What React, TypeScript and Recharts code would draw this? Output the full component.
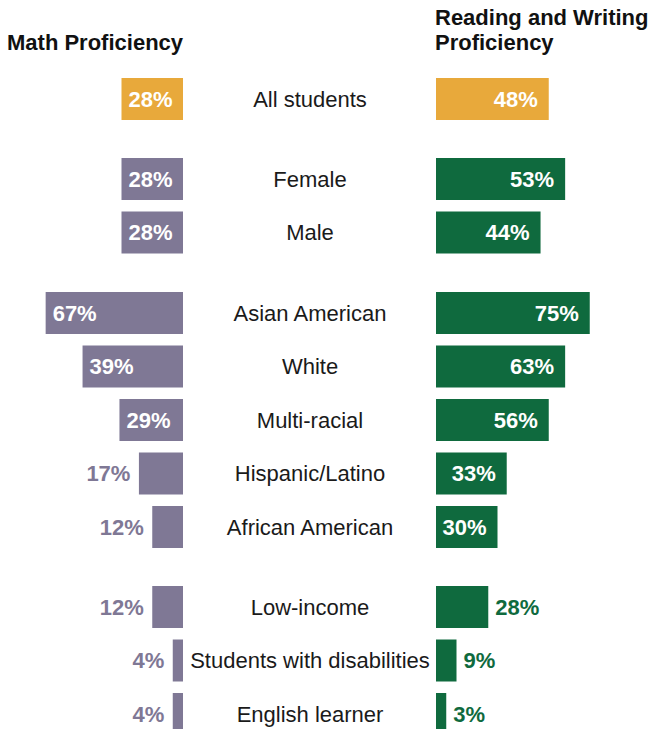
import { BarChart, Bar, XAxis, YAxis, Cell, LabelList } from 'recharts'

const categories = [
  'All students',
  'Female',
  'Male',
  'Asian American',
  'White',
  'Multi-racial',
  'Hispanic/Latino',
  'African American',
  'Low-income',
  'Students with disabilities',
  'English learner',
]
const groupSizes = [1, 2, 5, 3]
const highlight = 'All students'

// figures printed on the bars
const mathPct = [28, 28, 28, 67, 39, 29, 17, 12, 12, 4, 4]
const readingPct = [48, 53, 44, 75, 63, 56, 33, 30, 28, 9, 3]

// bar lengths as drawn in the source, read on one common scale
// (a few of them don't agree with the printed figures)
const mathBar = [30, 30, 30, 67, 49, 31, 21.5, 15, 15, 5, 5]
const readingBar = [55, 63, 51, 75, 63, 55, 34.5, 30, 25.5, 10, 5]

const ORANGE = '#e8a93b'
const PURPLE = '#7f7895'
const GREEN = '#0f6a3e'
const FONT = '"Liberation Sans", Arial, Helvetica, sans-serif'
const SIZE = 22
const ROW = 53.5
const GAP = 26.5
const FIT = 28 // shorter bars get their label outside

const rows = categories.map((name, i) => ({
  name,
  math: mathBar[i],
  reading: readingBar[i],
  mathIn: mathBar[i] >= FIT ? `${mathPct[i]}%` : undefined,
  mathOut: mathBar[i] < FIT ? `${mathPct[i]}%` : undefined,
  readIn: readingBar[i] >= FIT ? `${readingPct[i]}%` : undefined,
  readOut: readingBar[i] < FIT ? `${readingPct[i]}%` : undefined,
}))

const groups = groupSizes.map((n, g) => {
  const start = groupSizes.slice(0, g).reduce((a, b) => a + b, 0)
  return rows.slice(start, start + n)
})

const CategoryTick = (props: any) => {
  const { x, y, payload } = props
  return (
    <text x={x} y={y} dy="0.355em" textAnchor="middle" fill="#1a1a1a" fontSize={SIZE} fontFamily={FONT}>
      {payload.value}
    </text>
  )
}

const labelStyle = { fontSize: SIZE, fontWeight: 'bold', fontFamily: FONT }

function Group({ data }: { data: typeof rows }) {
  const h = data.length * ROW
  return (
    <div style={{ display: 'flex', height: h }}>
      <BarChart width={436} height={h} data={data} layout="vertical" margin={{ top: 0, right: 0, bottom: 0, left: 19 }}>
        <XAxis type="number" domain={[0, 80]} reversed hide />
        <YAxis
          type="category"
          dataKey="name"
          orientation="right"
          width={253}
          axisLine={false}
          tickLine={false}
          tickSize={0}
          tickMargin={127}
          interval={0}
          tick={<CategoryTick />}
        />
        <Bar dataKey="math" barSize={42} isAnimationActive={false}>
          {data.map((d) => (
            <Cell key={d.name} fill={d.name === highlight ? ORANGE : PURPLE} />
          ))}
          <LabelList dataKey="mathIn" position="insideRight" offset={7} fill="#fff" {...labelStyle} />
          <LabelList dataKey="mathOut" position="right" offset={8.5} fill={PURPLE} {...labelStyle} />
        </Bar>
      </BarChart>
      <BarChart width={212} height={h} data={data} layout="vertical" margin={{ top: 0, right: 7, bottom: 0, left: 0 }}>
        <XAxis type="number" domain={[0, 100]} hide />
        <YAxis type="category" dataKey="name" hide />
        <Bar dataKey="reading" barSize={42} isAnimationActive={false}>
          {data.map((d) => (
            <Cell key={d.name} fill={d.name === highlight ? ORANGE : GREEN} />
          ))}
          <LabelList dataKey="readIn" position="insideRight" offset={11} fill="#fff" {...labelStyle} />
          <LabelList dataKey="readOut" position="right" offset={7} fill={GREEN} {...labelStyle} />
        </Bar>
      </BarChart>
    </div>
  )
}

export default function App() {
  const title = {
    position: 'absolute' as const,
    fontFamily: FONT,
    fontSize: SIZE,
    fontWeight: 'bold' as const,
    lineHeight: '24.6px',
    color: '#111',
    whiteSpace: 'nowrap' as const,
  }
  return (
    <div style={{ position: 'absolute', left: 0, top: 0, width: 648, height: 729, overflow: 'hidden', background: '#fff' }}>
      <div style={{ ...title, left: 7, top: 30.8 }}>Math Proficiency</div>
      <div style={{ ...title, left: 435, top: 6.4 }}>Reading and Writing</div>
      <div style={{ ...title, left: 435, top: 30.8 }}>Proficiency</div>
      <div style={{ position: 'absolute', left: 0, top: 72, display: 'flex', flexDirection: 'column', gap: GAP }}>
        {groups.map((g, i) => (
          <Group key={i} data={g} />
        ))}
      </div>
    </div>
  )
}
